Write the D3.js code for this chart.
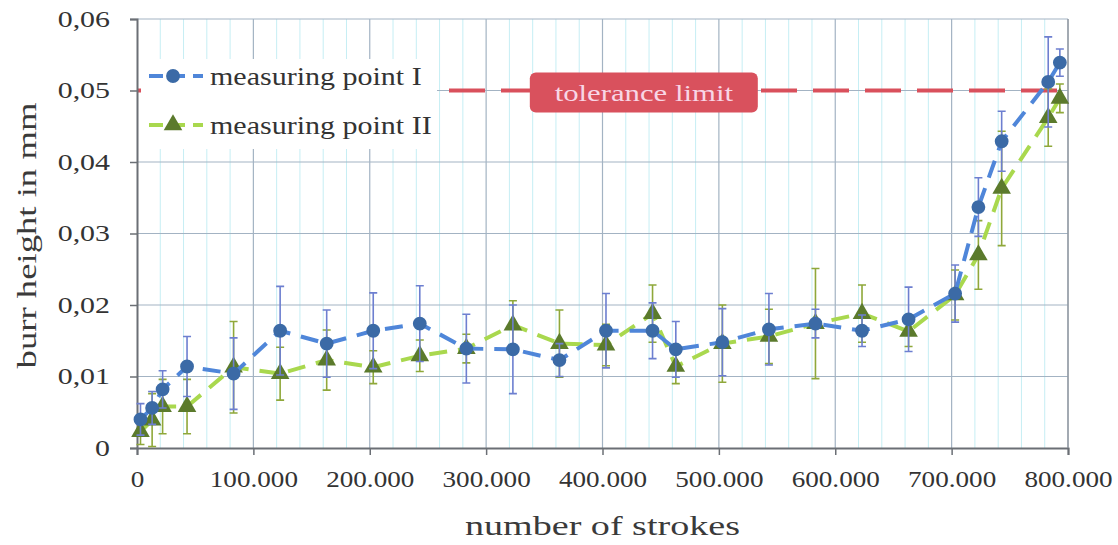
<!DOCTYPE html>
<html>
<head>
    <script src="https://d3js.org/d3.v7.min.js"></script>
    <style>
        body { margin: 0; background: #fff; }
        text { font-family: "Liberation Serif", "DejaVu Serif", serif; fill: #333; }
    </style>
</head>
<body>
    <svg width="1118" height="545"></svg>
    <script>
        // number of strokes (in thousands)
        var strokes = [3, 13, 22, 43, 83, 123, 163, 203, 243, 283, 323, 363, 403, 443, 463,
                       503, 543, 583, 623, 663, 703, 723, 743, 783, 793];

        // measuring point I (mm) and error
        var point1 = [0.0040, 0.0056, 0.0082, 0.0114, 0.0104, 0.0164, 0.0146, 0.0164, 0.0174, 0.0139,
                      0.0138, 0.0123, 0.0164, 0.0164, 0.0138, 0.0148, 0.0166, 0.0174, 0.0164, 0.0180,
                      0.0216, 0.0337, 0.0429, 0.0512, 0.0539];
        var err1 = [0.0022, 0.0023, 0.0026, 0.0042, 0.0050, 0.0062, 0.0047, 0.0053, 0.0053, 0.0048,
                    0.0062, 0.0023, 0.0052, 0.0039, 0.0039, 0.0047, 0.0050, 0.0020, 0.0022, 0.0045,
                    0.0040, 0.0041, 0.0042, 0.0063, 0.0019];

        // measuring point II (mm) and error
        var point2 = [0.0023, 0.0039, 0.0058, 0.0058, 0.0113, 0.0104, 0.0123, 0.0113, 0.0129, 0.0139,
                      0.0172, 0.0146, 0.0144, 0.0188, 0.0114, 0.0146, 0.0156, 0.0174, 0.0188, 0.0163,
                      0.0214, 0.0270, 0.0363, 0.0462, 0.0489];
        var err2 = [0.0018, 0.0037, 0.0038, 0.0038, 0.0064, 0.0037, 0.0042, 0.0023, 0.0022, 0.0020,
                    0.0034, 0.0047, 0.0029, 0.0040, 0.0024, 0.0054, 0.0038, 0.0077, 0.0040, 0.0021,
                    0.0035, 0.0048, 0.0080, 0.0040, 0.0020];

        var xTicks = [0, 100000, 200000, 300000, 400000, 500000, 600000, 700000, 800000];
        var xTickLabels = ["0", "100.000", "200.000", "300.000", "400.000", "500.000", "600.000", "700.000", "800.000"];
        var yTicks = [0, 0.01, 0.02, 0.03, 0.04, 0.05, 0.06];
        var yTickLabels = ["0", "0,01", "0,02", "0,03", "0,04", "0,05", "0,06"];
        var tolerance = 0.05;

        var svg = d3.select("svg"),
            margin = {top: 19, right: 50, bottom: 97, left: 137},
            width = +svg.attr("width") - margin.left - margin.right,
            height = +svg.attr("height") - margin.top - margin.bottom;

        var g = svg.append("g")
                   .attr("transform", "translate(" + margin.left + "," + margin.top + ")");

        var x = d3.scaleLinear().domain([0, 800000]).range([0, width]);
        var y = d3.scaleLinear().domain([0, 0.06]).range([height, 0]);

        // text is wider in the picture than the font, so stretch it
        function stretch(sel, k) {
            sel.each(function() {
                var len = this.getComputedTextLength();
                d3.select(this).attr("textLength", len * k).attr("lengthAdjust", "spacingAndGlyphs");
            });
        }

        // minor vertical grid every 20.000
        g.append("g")
         .selectAll("line")
         .data(d3.range(20000, 800000, 20000).filter(function(v) { return v % 100000 != 0; }))
         .enter().append("line")
         .attr("x1", function(d) { return x(d); })
         .attr("x2", function(d) { return x(d); })
         .attr("y1", 0).attr("y2", height)
         .attr("stroke", "#c6eef4")
         .attr("stroke-width", 1);

        // major grid
        g.append("g")
         .selectAll("line")
         .data(xTicks.slice(1))
         .enter().append("line")
         .attr("x1", function(d) { return x(d); })
         .attr("x2", function(d) { return x(d); })
         .attr("y1", 0).attr("y2", height)
         .attr("stroke", "#a3b3c3")
         .attr("stroke-width", 1.2);

        g.append("g")
         .selectAll("line")
         .data(yTicks.slice(1))
         .enter().append("line")
         .attr("x1", 0).attr("x2", width)
         .attr("y1", function(d) { return y(d); })
         .attr("y2", function(d) { return y(d); })
         .attr("stroke", "#a3b3c3")
         .attr("stroke-width", 1.2);

        // tolerance line
        g.append("line")
         .attr("x1", 0).attr("x2", width)
         .attr("y1", y(tolerance)).attr("y2", y(tolerance))
         .attr("stroke", "#d9505c")
         .attr("stroke-width", 4)
         .attr("stroke-dasharray", "36,16");

        // axes
        var xAxis = g.append("g")
                     .attr("transform", "translate(0," + height + ")")
                     .call(d3.axisBottom(x).tickValues(xTicks)
                            .tickFormat(function(d, i) { return xTickLabels[i]; })
                            .tickSize(7).tickPadding(16));
        var yAxis = g.append("g")
                     .call(d3.axisLeft(y).tickValues(yTicks)
                            .tickFormat(function(d, i) { return yTickLabels[i]; })
                            .tickSize(7).tickPadding(20));

        g.append("line")
         .attr("x1", width).attr("x2", width)
         .attr("y1", 0).attr("y2", height)
         .attr("stroke", "#8a9098").attr("stroke-width", 1.2);

        [xAxis, yAxis].forEach(function(a) {
            a.select(".domain").attr("stroke", "#6b6f75").attr("stroke-width", 2);
            a.selectAll(".tick line").attr("stroke", "#6b6f75").attr("stroke-width", 1.5);
            a.selectAll(".tick text")
             .style("font-family", "Liberation Serif")
             .style("font-size", "23px")
             .attr("fill", "#444");
        });
        stretch(xAxis.selectAll(".tick text"), 1.18);
        stretch(yAxis.selectAll(".tick text"), 1.3);

        // series
        var series = [
            {name: "measuring point I", values: point1, err: err1, line: "#4f86d9", mark: "#3b6aa6", bar: "#6d7fd0", shape: d3.symbolCircle},
            {name: "measuring point II", values: point2, err: err2, line: "#a9d84e", mark: "#5b7a2c", bar: "#8fa83a", shape: d3.symbolTriangle}
        ];

        var line = d3.line()
                     .x(function(d) { return x(d[0] * 1000); })
                     .y(function(d) { return y(d[1]); })
                     .curve(d3.curveLinear);

        series.slice().reverse().forEach(function(s) {
            var pts = strokes.map(function(v, i) { return [v, s.values[i], s.err[i]]; });
            var sg = g.append("g");

            sg.selectAll(".bar")
              .data(pts).enter().append("path")
              .attr("d", function(d) {
                  var cx = x(d[0] * 1000), t = y(d[1] + d[2]), b = y(d[1] - d[2]);
                  return "M" + (cx - 4) + "," + t + "H" + (cx + 4) +
                         "M" + cx + "," + t + "V" + b +
                         "M" + (cx - 4) + "," + b + "H" + (cx + 4);
              })
              .attr("fill", "none")
              .attr("stroke", s.bar)
              .attr("stroke-width", 1.6);

            sg.append("path")
              .datum(pts)
              .attr("d", line)
              .attr("fill", "none")
              .attr("stroke", s.line)
              .attr("stroke-width", 4)
              .attr("stroke-dasharray", "18,11");

            sg.selectAll(".mark")
              .data(pts).enter().append("path")
              .attr("transform", function(d) { return "translate(" + x(d[0] * 1000) + "," + y(d[1]) + ")"; })
              .attr("d", d3.symbol().type(s.shape).size(150))
              .attr("fill", s.mark);
        });

        // legend
        var leg = g.append("g");
        leg.append("rect")
           .attr("x", 4).attr("y", 40)
           .attr("width", 296).attr("height", 90)
           .attr("fill", "#fff");

        series.forEach(function(s, i) {
            var ly = 57 + i * 49;
            leg.append("line")
               .attr("x1", 12).attr("x2", 66)
               .attr("y1", ly).attr("y2", ly)
               .attr("stroke", s.line).attr("stroke-width", 4)
               .attr("stroke-dasharray", "14,8");
            leg.append("path")
               .attr("transform", "translate(36," + ly + ")")
               .attr("d", d3.symbol().type(s.shape).size(150))
               .attr("fill", s.mark);
            var t = leg.append("text")
               .attr("x", 73).attr("y", ly + 9)
               .text(s.name)
               .style("font-size", "25px")
               .attr("fill", "#333");
            stretch(t, 1.2);
        });

        // tolerance limit label
        var tl = g.append("g").attr("transform", "translate(" + x(435500) + "," + y(tolerance) + ")");
        tl.append("rect")
          .attr("x", -114).attr("y", -18)
          .attr("width", 228).attr("height", 40)
          .attr("rx", 6)
          .attr("fill", "#d9515d");
        var tt = tl.append("text")
          .attr("x", 0).attr("y", 10)
          .attr("text-anchor", "middle")
          .text("tolerance limit")
          .style("font-size", "24px")
          .style("fill", "#f8d6e6");
        stretch(tt, 1.28);

        // axis titles
        var xt = svg.append("text")
           .attr("x", margin.left + width / 2).attr("y", 535)
           .attr("text-anchor", "middle")
           .text("number of strokes")
           .style("font-size", "28px")
           .style("fill", "#3a3a3a");
        stretch(xt, 1.36);

        var yt = svg.append("text")
           .attr("transform", "translate(36," + (margin.top + height / 2 + 2) + ") rotate(-90)")
           .attr("text-anchor", "middle")
           .text("burr height in mm")
           .style("font-size", "28px")
           .style("fill", "#3a3a3a");
        stretch(yt, 1.31);
    </script>
</body>
</html>
